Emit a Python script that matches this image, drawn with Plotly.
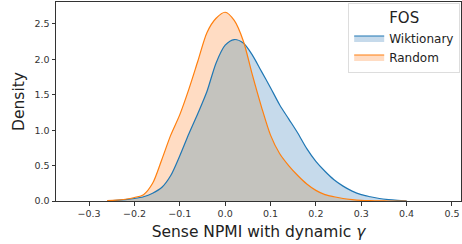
import numpy as np
import plotly.graph_objects as go

grid_x = [-0.26, -0.24, -0.22, -0.20, -0.18, -0.16, -0.14, -0.12,
          -0.10, -0.08, -0.06, -0.04, -0.02, 0.00, 0.02, 0.04, 0.06, 0.08, 0.10, 0.12, 0.14,
          0.16, 0.18, 0.20, 0.22, 0.24, 0.26, 0.28, 0.30, 0.32, 0.34, 0.36, 0.38, 0.40]

wiktionary_y = [0.003, 0.01, 0.02, 0.035, 0.06, 0.11, 0.19, 0.36,
                0.64, 0.95, 1.24, 1.55, 1.95, 2.20, 2.28, 2.23, 2.06, 1.83, 1.60, 1.36, 1.16,
                0.96, 0.74, 0.56, 0.42, 0.30, 0.21, 0.14, 0.09, 0.06, 0.035, 0.02, 0.01, 0.003]

random_y = [0.005, 0.012, 0.025, 0.05, 0.09, 0.25, 0.58, 0.93,
            1.22, 1.58, 1.98, 2.38, 2.58, 2.665, 2.55, 2.26, 1.78, 1.33, 0.93, 0.67, 0.50,
            0.36, 0.24, 0.15, 0.09, 0.06, 0.035, 0.02, 0.01, 0.005, 0.002, 0.0, 0.0, 0.0]

x_ticks = [-0.3, -0.2, -0.1, 0.0, 0.1, 0.2, 0.3, 0.4, 0.5]
y_ticks = [0.0, 0.5, 1.0, 1.5, 2.0, 2.5]

overlap_y = np.minimum(np.array(wiktionary_y), np.array(random_y))

BLUE, ORANGE = "#1f77b4", "#ff7f0e"
BLUE_FILL, ORANGE_FILL, GRAY_FILL = "rgb(198,218,235)", "rgb(255,220,195)", "rgb(196,195,190)"
spl = dict(shape="spline", smoothing=0.8)

fig = go.Figure()
# fills
fig.add_trace(go.Scatter(x=grid_x, y=wiktionary_y, mode="lines", line=dict(width=0, **spl),
                         fill="tozeroy", fillcolor=BLUE_FILL, showlegend=False, hoverinfo="skip"))
fig.add_trace(go.Scatter(x=grid_x, y=random_y, mode="lines", line=dict(width=0, **spl),
                         fill="tozeroy", fillcolor=ORANGE_FILL, showlegend=False, hoverinfo="skip"))
fig.add_trace(go.Scatter(x=grid_x, y=overlap_y, mode="lines", line=dict(width=0, **spl),
                         fill="tozeroy", fillcolor=GRAY_FILL, showlegend=False, hoverinfo="skip"))
# lines
fig.add_trace(go.Scatter(x=grid_x, y=wiktionary_y, mode="lines", line=dict(color=BLUE, width=1.2, **spl),
                         showlegend=False))
fig.add_trace(go.Scatter(x=grid_x, y=random_y, mode="lines", line=dict(color=ORANGE, width=1.2, **spl),
                         showlegend=False))
# legend entries
fig.add_trace(go.Scatter(x=[None], y=[None], name="Wiktionary", mode="lines", fill="toself",
                         fillcolor=BLUE_FILL, line=dict(color=BLUE, width=1.2)))
fig.add_trace(go.Scatter(x=[None], y=[None], name="Random", mode="lines", fill="toself",
                         fillcolor=ORANGE_FILL, line=dict(color=ORANGE, width=1.2)))

axis_common = dict(showgrid=False, zeroline=False, showline=True, linecolor="#333333",
                   linewidth=1, mirror=True, ticks="outside", ticklen=3.5, tickcolor="#333333",
                   tickfont=dict(size=9.5, color="#333333"), automargin=False)
fig.update_xaxes(range=[-0.373, 0.52], tickvals=x_ticks, tickformat=".1f",
                 title=dict(text="Sense NPMI with dynamic <i>γ</i>", font=dict(size=15.5, color="#222222"), standoff=8),
                 **axis_common)
fig.update_yaxes(range=[0, 2.81], tickvals=y_ticks, tickformat=".1f",
                 title=dict(text="Density", font=dict(size=15.5, color="#222222"), standoff=6),
                 **axis_common)

fig.update_layout(
    width=462, height=244,
    margin=dict(l=56, r=1, t=2, b=43),
    paper_bgcolor="white", plot_bgcolor="white",
    font=dict(family="DejaVu Sans", color="#222222"),
    legend=dict(title=dict(text="FOS", font=dict(size=15), side="top center"),
                x=0.998, y=0.995, xanchor="right", yanchor="top",
                bgcolor="rgba(255,255,255,0.8)", bordercolor="#dddddd", borderwidth=1,
                font=dict(size=12), tracegroupgap=0, itemwidth=30),
)

fig.write_html("out.html", config={"displayModeBar": False},
               post_script="document.body.style.margin='0';")
